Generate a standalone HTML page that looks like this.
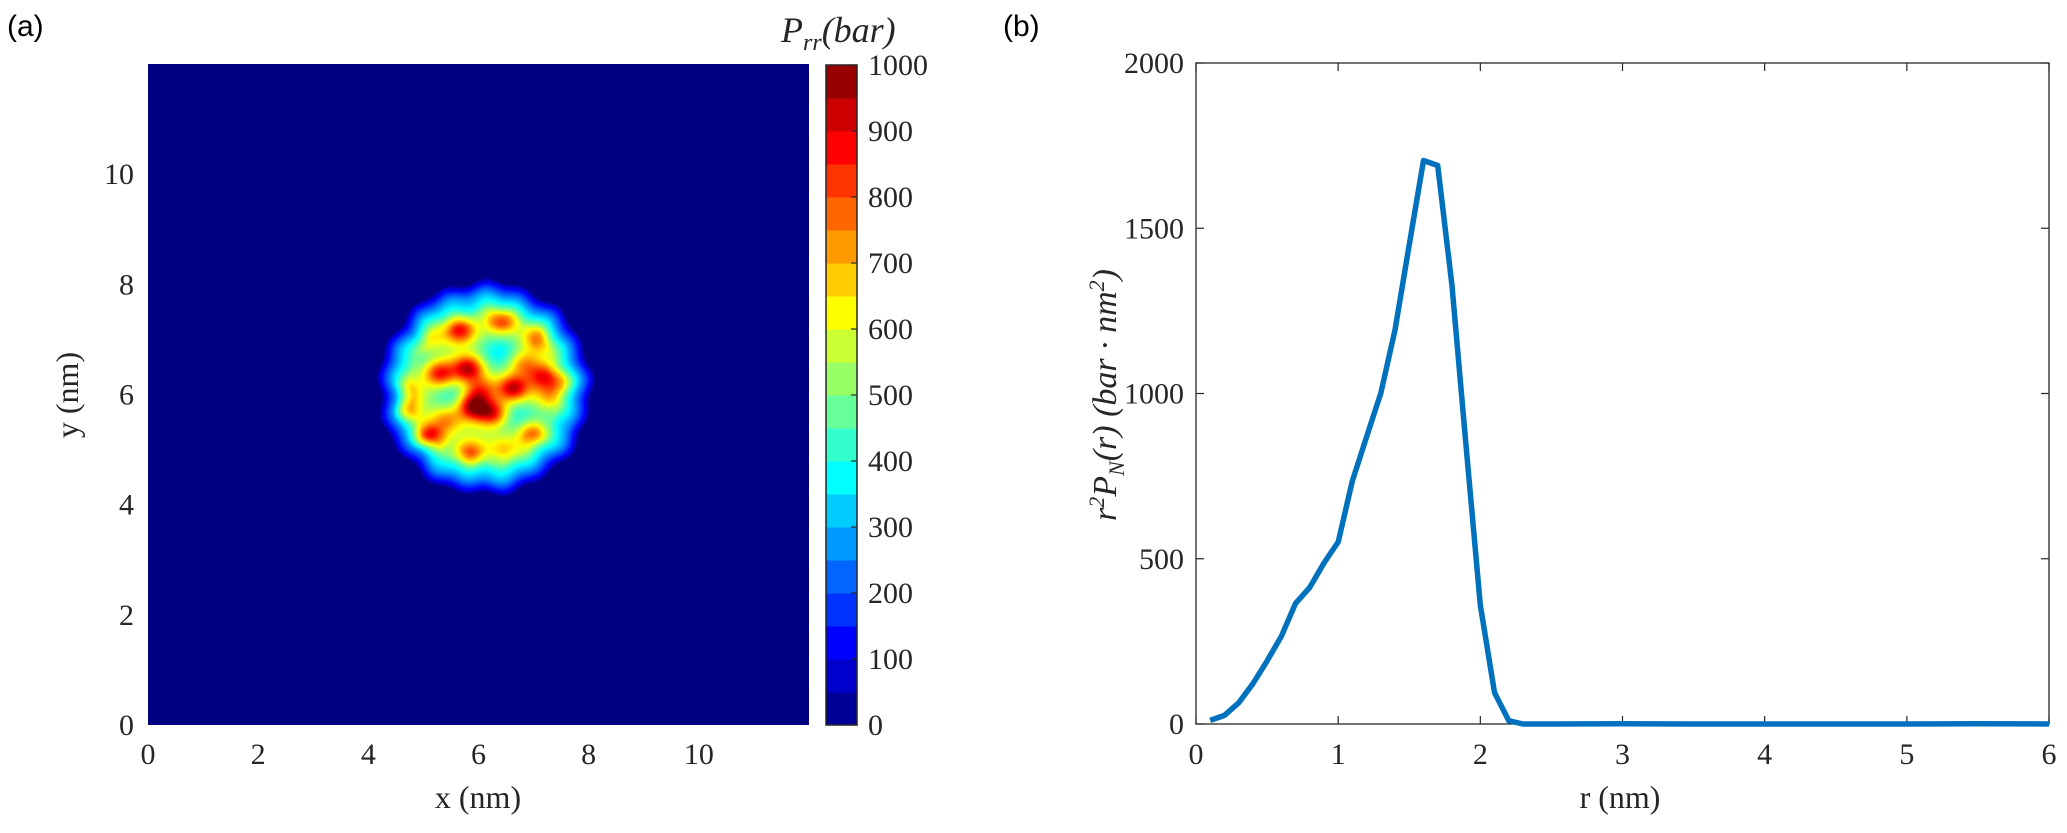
<!DOCTYPE html>
<html><head><meta charset="utf-8">
<style>
html,body{margin:0;padding:0;background:#fff;}
#wrap{position:relative;width:2067px;height:833px;overflow:hidden;font-family:"Liberation Serif",serif;}
svg{position:absolute;left:0;top:0;}
canvas{position:absolute;}
</style></head>
<body>
<div id="wrap">
<canvas id="heat" width="661" height="661" style="left:148px;top:64px;width:661px;height:661px"></canvas>
<svg id="svg" width="2067" height="833"></svg>
</div>
<script>
// ---- data: panel (b) ----
const rValues = [0.1,0.2,0.3,0.4,0.5,0.6,0.7,0.8,0.9,1.0,1.1,1.2,1.3,1.4,1.5,1.6,1.7,1.8,1.9,2.0,2.1,2.2,2.3,2.5,3,3.5,4,4.5,5,5.5,6];
const pValues = [11,26,64,122,191,265,365,413,487,551,736,869,1001,1192,1451,1705,1690,1329,840,360,95,10,0,0,1,0,0,0,0,1,0];
const bXTicks = [0,1,2,3,4,5,6];
const bYTicks = [0,500,1000,1500,2000];
// ---- data: panel (a) ----
const aTicks = [0,2,4,6,8,10];
const cbTicks = [0,100,200,300,400,500,600,700,800,900,1000];
const blobCenter = [6.12,6.12];
const blobRadius = 1.95;
const blobBase = 540;
const hotX = [5.66,5.03,6.42,7.11,5.81,5.30,4.63,5.90,6.27,6.63,7.17,6.81,7.60,4.57,5.09,4.88,5.84,6.99,6.45,5.42,6.03,7.30, 5.78,6.39,5.54,6.69,7.42,4.94,5.36,6.21];
const hotY = [7.17,6.99,7.35,7.02,6.47,6.38,6.02,5.78,5.66,6.11,6.32,6.56,6.20,5.66,5.20,4.99,4.93,5.29,4.99,5.54,6.08,5.96, 7.66,6.75,5.96,5.60,5.41,6.75,4.87,4.63];
const hotV = [900,750,850,800,950,900,850,1000,900,950,850,750,700,900,1000,750,850,850,700,750,800,700, 380,360,400,380,400,420,420,420];

const NS='http://www.w3.org/2000/svg';
const svg=document.getElementById('svg');
function el(tag,attrs,parent){const e=document.createElementNS(NS,tag);for(const k in attrs)e.setAttribute(k,attrs[k]);(parent||svg).appendChild(e);return e;}
function txt(s,x,y,opt,parent){const t=el('text',Object.assign({x:x,y:y,'font-family':'Liberation Serif, serif','font-size':30,fill:'#262626'},opt||{}),parent);t.textContent=s;return t;}

function jet(v){
  const f=x=>Math.max(0,Math.min(1,x));
  const r=f(1.5-Math.abs(4*v-3)), g=f(1.5-Math.abs(4*v-2)), b=f(1.5-Math.abs(4*v-1));
  return [Math.round(r*255),Math.round(g*255),Math.round(b*255)];
}

// ---- panel (a) ----
const AX0=148, AX1=809, AY0=725, AY1=64, AMAX=12;
const ax=v=>AX0+(v/AMAX)*(AX1-AX0);
const ay=v=>AY0-(v/AMAX)*(AY0-AY1);
const aval=(x,y)=>{
  const dx=x-blobCenter[0], dy=y-blobCenter[1];
  const r=Math.sqrt(dx*dx+dy*dy);
  const ang=Math.atan2(dy,dx);
  const R=blobRadius+0.035*Math.sin(ang*17)+0.025*Math.sin(ang*9+1);
  let edge=(R-r)/0.6; edge=Math.max(0,Math.min(1,edge));
  const inner=Math.max(0,Math.min(1,(R-0.25-r)/0.5));
  let v=blobBase*Math.pow(edge,0.8);
  for(let i=0;i<hotX.length;i++){
    const hx=(x-hotX[i])*0.85, hy=y-hotY[i];
    const s=hotV[i]<500?0.24:0.17;
    const g=Math.exp(-(hx*hx+hy*hy)/(2*s*s));
    v+= (hotV[i]-blobBase)*g*inner;
  }
  return Math.max(0,Math.min(1000,v));
};
(function(){
  const c=document.getElementById('heat'),ctx=c.getContext('2d');
  const W=c.width,H=c.height,img=ctx.createImageData(W,H);
  for(let j=0;j<H;j++)for(let i=0;i<W;i++){
    const x=(i+0.5)/W*AMAX, y=(H-j-0.5)/H*AMAX;
    const col=jet(aval(x,y)/1000);
    const k=(j*W+i)*4;img.data[k]=col[0];img.data[k+1]=col[1];img.data[k+2]=col[2];img.data[k+3]=255;
  }
  ctx.putImageData(img,0,0);
})();
const ga=el('g',{});


aTicks.forEach(t=>{
  const tx=txt(String(t),ax(t),764,{'text-anchor':'middle'},ga);
  
  
  const ty=txt(String(t),AX0-14,ay(t)+10,{'text-anchor':'end'},ga);
  
  
});
const axt=txt('x (nm)',478,808,{'text-anchor':'middle','font-size':32},ga);


const ayt=txt('y (nm)',0,0,{'text-anchor':'middle','font-size':32,transform:'translate(78,395) rotate(-90)'},ga);


const la=el('text',{x:7,y:36,'font-family':'Liberation Sans, sans-serif','font-size':30,fill:'#000'});
la.textContent='(a)';



// ---- colorbar ----
const CX0=826, CX1=857, CY0=725, CY1=65;
const cy=v=>CY0-(v/1000)*(CY0-CY1);
const gc=el('g',{});


for(let i=0;i<20;i++){
  const v0=i*50, v1=(i+1)*50, col=jet((v0+25)/1000);
  const r=el('rect',{x:CX0,y:cy(v1),width:CX1-CX0,height:cy(v0)-cy(v1)+0.5,fill:`rgb(${col})`},gc);
  
  
}
el('rect',{x:CX0,y:CY1,width:CX1-CX0,height:CY0-CY1,fill:'none',stroke:'#262626','stroke-width':1.5},gc);
cbTicks.forEach(t=>{
  el('line',{x1:CX1-6,x2:CX1,y1:cy(t),y2:cy(t),stroke:'#262626','stroke-width':1.2},gc);
  const tl=txt(String(t),868,cy(t)+10,{'text-anchor':'start'},gc);
  
  
});
const ct=el('text',{x:781,y:42,'font-family':'Liberation Serif, serif','font-size':36,'font-style':'italic',fill:'#262626'},gc);
ct.innerHTML='P<tspan font-size="24" dy="8">rr</tspan><tspan dy="-8">(bar)</tspan>';



// ---- panel (b) ----
const BX0=1196, BX1=2049, BY0=724, BY1=63;
const bx=v=>BX0+(v/6)*(BX1-BX0);
const by=v=>BY0-(v/2000)*(BY0-BY1);
const gb=el('g',{});


el('rect',{x:BX0,y:BY1,width:BX1-BX0,height:BY0-BY1,fill:'#fff',stroke:'#262626','stroke-width':1.3},gb);
bXTicks.forEach(t=>{
  el('line',{x1:bx(t),x2:bx(t),y1:BY0,y2:BY0-8,stroke:'#262626','stroke-width':1.2},gb);
  el('line',{x1:bx(t),x2:bx(t),y1:BY1,y2:BY1+8,stroke:'#262626','stroke-width':1.2},gb);
  const tl=txt(String(t),bx(t),764,{'text-anchor':'middle'},gb);
  
  
});
bYTicks.forEach(t=>{
  el('line',{x1:BX0,x2:BX0+8,y1:by(t),y2:by(t),stroke:'#262626','stroke-width':1.2},gb);
  el('line',{x1:BX1,x2:BX1-8,y1:by(t),y2:by(t),stroke:'#262626','stroke-width':1.2},gb);
  const tl=txt(String(t),BX0-12,by(t)+10,{'text-anchor':'end'},gb);
  
  
});
const pts=rValues.map((r,i)=>bx(r).toFixed(1)+','+by(pValues[i]).toFixed(1)).join(' ');
const line=el('polyline',{points:pts,fill:'none',stroke:'#0072BD','stroke-width':5.5,'stroke-linejoin':'round'},gb);


const bxt=txt('r (nm)',1620,808,{'text-anchor':'middle','font-size':32},gb);


const byt=el('text',{'font-family':'Liberation Serif, serif','font-size':34,'font-style':'italic',fill:'#262626','text-anchor':'middle',transform:'translate(1116,395) rotate(-90)'},gb);
byt.innerHTML='r<tspan font-size="22" dy="-12">2</tspan><tspan dy="12">P</tspan><tspan font-size="22" dy="8">N</tspan><tspan dy="-8">(r)  (bar · nm</tspan><tspan font-size="22" dy="-12">2</tspan><tspan dy="12">)</tspan>';


const lb=el('text',{x:1003,y:36,'font-family':'Liberation Sans, sans-serif','font-size':30,fill:'#000'});
lb.textContent='(b)';


</script>
</body></html>
